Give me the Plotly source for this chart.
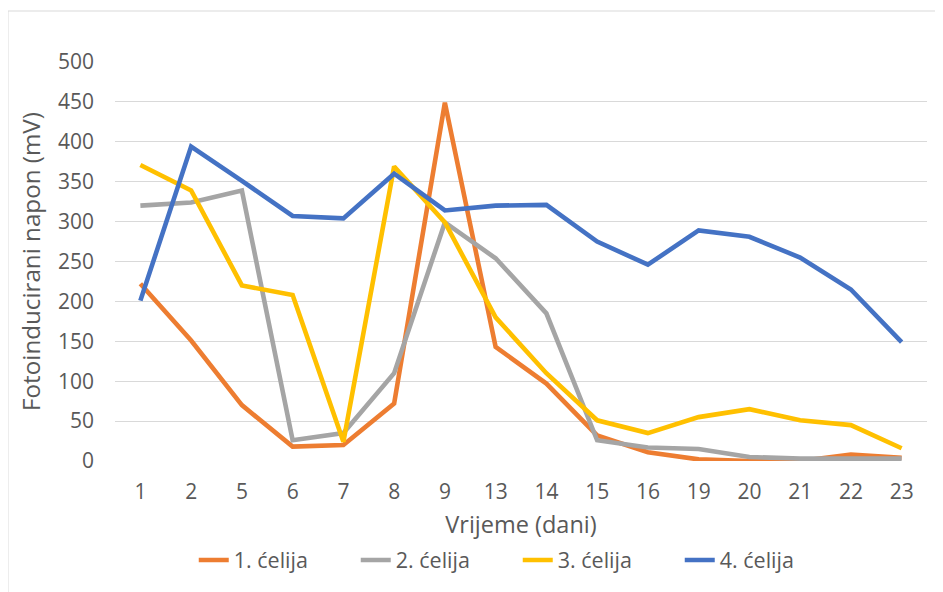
import plotly.graph_objects as go

days = ["1", "2", "5", "6", "7", "8", "9", "13", "14", "15", "16", "19", "20", "21", "22", "23"]
celija1 = [222, 151, 70, 18, 20, 72, 449, 143, 97, 32, 11, 2, 0, 0, 8, 4]
celija2 = [320, 324, 339, 26, 35, 110, 299, 254, 185, 26, 17, 15, 5, 3, 3, 3]
celija3 = [371, 339, 220, 208, 24, 369, 299, 180, 110, 51, 35, 55, 65, 51, 45, 16]
celija4 = [201, 394, 351, 307, 304, 360, 314, 320, 321, 275, 246, 289, 281, 255, 215, 149]

names = ["1. ćelija", "2. ćelija", "3. ćelija", "4. ćelija"]
colors = ["#ED7D31", "#A5A5A5", "#FFC000", "#4472C4"]
series = [celija1, celija2, celija3, celija4]

fnt = "'Open Sans', sans-serif"
txt = "#595959"

fig = go.Figure()
for n, c, s in zip(names, colors, series):
    fig.add_trace(go.Scatter(x=days, y=s, name=n, mode="lines",
                             line=dict(color=c, width=4.6)))

fig.update_layout(
    width=943, height=592,
    margin=dict(l=107, r=24, t=54, b=139),
    paper_bgcolor="white", plot_bgcolor="white",
    font=dict(family=fnt, size=18, color=txt),
    showlegend=True,
    legend=dict(orientation="h", x=0.496, xanchor="center", y=-0.248, yanchor="middle",
                font=dict(family=fnt, size=21.5, color=txt),
                entrywidth=117, entrywidthmode="pixels", tracegroupgap=0,
                bgcolor="rgba(0,0,0,0)"),
    xaxis=dict(type="category", range=[-0.5, 15.5], showgrid=False, zeroline=False,
               showline=False, ticks="", ticklabelstandoff=16,
               tickfont=dict(family=fnt, size=21, color=txt),
               title=dict(text="Vrijeme (dani)", standoff=12,
                          font=dict(family=fnt, size=23.5, color=txt))),
    yaxis=dict(range=[0, 500], dtick=50, showgrid=True, gridcolor="#d9d9d9", gridwidth=1,
               zeroline=False, showline=False, ticks="", ticklabelstandoff=20,
               tickfont=dict(family=fnt, size=21, color=txt),
               title=dict(text="Fotoinducirani napon (mV)", standoff=10,
                          font=dict(family=fnt, size=24.2, color=txt))),
    shapes=[dict(type="rect", xref="paper", yref="paper", x0=-0.1318, x1=1.05, y0=-0.4, y1=1.1278,
                 line=dict(color="#d9d9d9", width=1), fillcolor="rgba(0,0,0,0)", layer="below")],
)

fig.write_html("out.html")
